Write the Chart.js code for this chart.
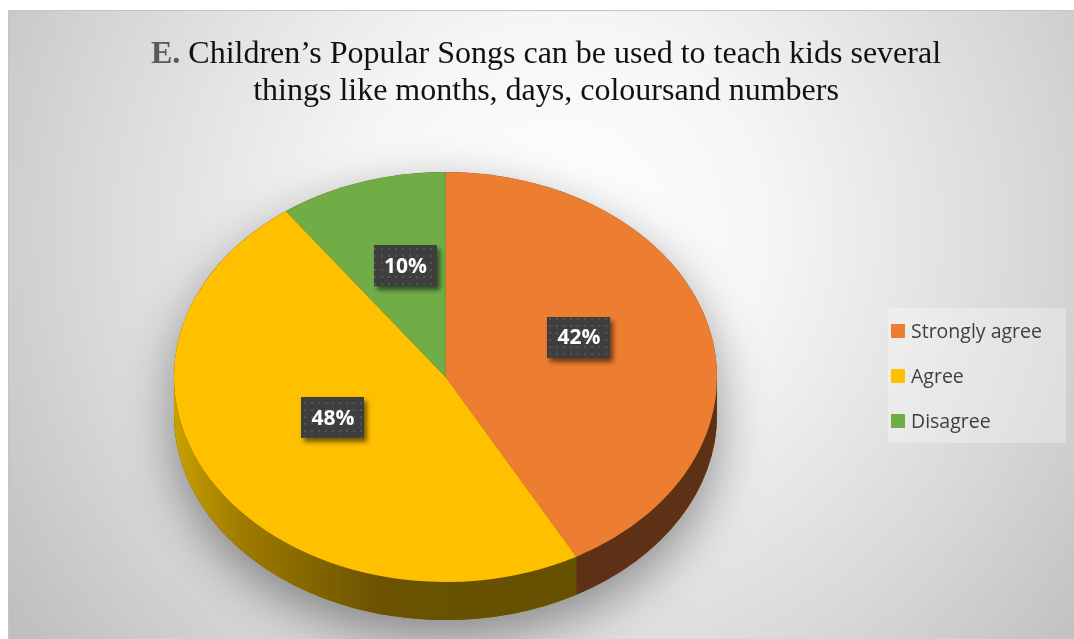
<!DOCTYPE html>
<html>
<head>
<meta charset="utf-8">
<script src="https://cdn.jsdelivr.net/npm/chart.js@4/dist/chart.umd.min.js"></script>
<style>
  html, body { margin: 0; padding: 0; background: #fff; }
  #wrap { width: 1074px; height: 639px; }
</style>
</head>
<body>
<div id="wrap"><canvas id="songsPie" width="1074" height="639"></canvas></div>
<script>
const labels = ['Strongly agree', 'Agree', 'Disagree'];
const values = [42, 48, 10];
const colors = ['#ED7D31', '#FFC000', '#70AD47'];
const titleLead = 'E.';
const titleLines = ['Children\u2019s Popular Songs can be used to teach kids several', 'things like months, days, coloursand numbers'];

// Ellipse the flat pie gets squashed onto, plus the height of its rim
const PIE = { cx: 445.5, cy: 377, rx: 271.5, ry: 205, depth: 38 };

function rimFill(ctx, index) {
    if (index === 0) return '#5E3016';
    const g = ctx.createLinearGradient(PIE.cx - PIE.rx, 0, PIE.cx + PIE.rx, 0);
    g.addColorStop(0, '#C9A000');
    g.addColorStop(0.12, '#A07C00');
    g.addColorStop(0.38, '#6A5200');
    g.addColorStop(1, '#625000');
    return g;
}

let dotPattern = null;
function getDotPattern(ctx) {
    if (dotPattern) return dotPattern;
    const pc = document.createElement('canvas');
    pc.width = 7; pc.height = 7;
    const p = pc.getContext('2d');
    p.fillStyle = '#3E3E3E';
    p.fillRect(0, 0, 7, 7);
    p.fillStyle = '#545454';
    p.fillRect(3, 3, 2, 2);
    dotPattern = ctx.createPattern(pc, 'repeat');
    return dotPattern;
}

const backgroundPlugin = {
    id: 'panelBackground',
    beforeDraw(chart) {
        const ctx = chart.ctx;
        ctx.save();
        ctx.fillStyle = '#fff';
        ctx.fillRect(0, 0, chart.width, chart.height);
        const g = ctx.createRadialGradient(560, 230, 0, 560, 230, 680);
        g.addColorStop(0, '#ffffff');
        g.addColorStop(0.3, '#f6f6f6');
        g.addColorStop(0.7, '#d8d8d8');
        g.addColorStop(1, '#bebebe');
        ctx.fillStyle = g;
        ctx.fillRect(8, 10, 1066, 629);
        ctx.strokeStyle = '#c4c4c4';
        ctx.lineWidth = 1;
        ctx.strokeRect(8.5, 10.5, 1070, 640);

        // title: bold grey lead-in, rest in plain serif
        ctx.textBaseline = 'alphabetic';
        const boldFont = 'bold 32px "Liberation Serif", "Times New Roman", serif';
        const normFont = '32px "Liberation Serif", "Times New Roman", serif';
        ctx.font = boldFont;
        const leadW = ctx.measureText(titleLead + ' ').width;
        ctx.font = normFont;
        const restW = ctx.measureText(titleLines[0]).width;
        let x = 546 - (leadW + restW) / 2;
        ctx.font = boldFont;
        ctx.fillStyle = '#595959';
        ctx.fillText(titleLead, x, 63);
        ctx.font = normFont;
        ctx.fillStyle = '#111';
        ctx.fillText(titleLines[0], x + leadW, 63);
        ctx.textAlign = 'center';
        ctx.fillText(titleLines[1], 546, 100);
        ctx.restore();
    }
};

const pie3dPlugin = {
    id: 'pie3d',
    beforeDatasetsDraw(chart) {
        const ctx = chart.ctx;
        const arcs = chart.getDatasetMeta(0).data;
        const { cx, cy, rx, ry, depth } = PIE;

        // soft shadow under the whole disc
        ctx.save();
        ctx.shadowColor = 'rgba(0,0,0,0.4)';
        ctx.shadowBlur = 50;
        ctx.shadowOffsetY = 18;
        ctx.fillStyle = '#6a5200';
        ctx.beginPath();
        ctx.ellipse(cx, cy, rx, ry, 0, Math.PI, 0);
        ctx.ellipse(cx, cy + depth, rx, ry, 0, 0, Math.PI);
        ctx.closePath();
        ctx.fill();
        ctx.restore();

        // rim of the slices that face the viewer
        arcs.forEach((el, i) => {
            const windows = [[0, Math.PI], [2 * Math.PI, 3 * Math.PI]];
            windows.forEach(([lo, hi]) => {
                const s = Math.max(el.startAngle, lo);
                const e = Math.min(el.endAngle, hi);
                if (e <= s) return;
                ctx.save();
                ctx.fillStyle = rimFill(ctx, i);
                ctx.beginPath();
                ctx.ellipse(cx, cy, rx, ry, 0, s, e);
                ctx.ellipse(cx, cy + depth, rx, ry, 0, e, s, true);
                ctx.closePath();
                ctx.fill();
                ctx.restore();
            });
        });

        // squash the circular pie onto the top ellipse
        const a = arcs[0];
        ctx.save();
        ctx.translate(cx, cy);
        ctx.scale(rx / a.outerRadius, ry / a.outerRadius);
        ctx.translate(-a.x, -a.y);
    },
    afterDatasetsDraw(chart) {
        const ctx = chart.ctx;
        ctx.restore();

        const arcs = chart.getDatasetMeta(0).data;
        const data = chart.data.datasets[0].data;
        arcs.forEach((el, i) => {
            const mid = (el.startAngle + el.endAngle) / 2;
            const px = PIE.cx + PIE.rx * 0.5 * Math.cos(mid) + 2;
            const py = PIE.cy + PIE.ry * 0.5 * Math.sin(mid) - 14;
            const w = 63, h = 41;
            ctx.save();
            ctx.shadowColor = 'rgba(0,0,0,0.55)';
            ctx.shadowBlur = 5;
            ctx.shadowOffsetX = 3;
            ctx.shadowOffsetY = 4;
            ctx.fillStyle = getDotPattern(ctx);
            ctx.fillRect(Math.round(px - w / 2), Math.round(py - h / 2), w, h);
            ctx.restore();
            ctx.save();
            ctx.fillStyle = '#fff';
            ctx.font = 'bold 21px "Open Sans", "Liberation Sans", sans-serif';
            ctx.textAlign = 'center';
            ctx.textBaseline = 'middle';
            ctx.fillText(data[i] + '%', px, py + 1);
            ctx.restore();
        });
    }
};

const legendPlugin = {
    id: 'sideLegend',
    afterDraw(chart) {
        const ctx = chart.ctx;
        const ds = chart.data.datasets[0];
        ctx.save();
        ctx.fillStyle = 'rgba(255,255,255,0.3)';
        ctx.fillRect(888, 308, 178, 135);
        ctx.font = '19.5px "Open Sans", Lato, sans-serif';
        ctx.textBaseline = 'alphabetic';
        chart.data.labels.forEach((lab, i) => {
            const y = 331 + i * 45;
            ctx.fillStyle = ds.backgroundColor[i];
            ctx.fillRect(891, y - 7, 14, 14);
            ctx.fillStyle = '#404040';
            ctx.fillText(lab, 911, y + 7);
        });
        ctx.restore();
    }
};

new Chart(document.getElementById('songsPie').getContext('2d'), {
    type: 'pie',
    data: {
        labels: labels,
        datasets: [{
            data: values,
            backgroundColor: colors,
            borderWidth: 0
        }]
    },
    options: {
        responsive: false,
        animation: false,
        events: [],
        layout: { padding: { left: 174, right: 357, top: 110, bottom: 0 } },
        plugins: {
            legend: { display: false },
            tooltip: { enabled: false },
            title: { display: false }
        }
    },
    plugins: [backgroundPlugin, pie3dPlugin, legendPlugin]
});
</script>
</body>
</html>
